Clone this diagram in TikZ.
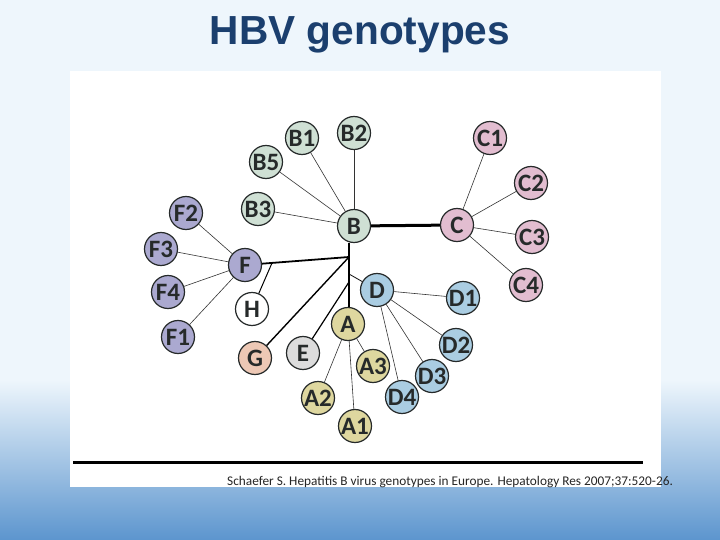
\documentclass[tikz,border=0pt]{standalone}
\usepackage{fontspec}
\setmainfont{Carlito}
\newfontfamily\titlefont{Liberation Sans}
\usetikzlibrary{calc}

\definecolor{titleblue}{HTML}{1B3F6E}
\definecolor{bgtop}{HTML}{EEF6FC}
\definecolor{bgbot}{HTML}{5C95CE}
\definecolor{rimcol}{HTML}{262A2A}
\definecolor{bcol}{HTML}{CFE0D4}
\definecolor{ccol}{HTML}{E2BDD0}
\definecolor{fcol}{HTML}{ABA9D0}
\definecolor{acol}{HTML}{DED79F}
\definecolor{dcol}{HTML}{AACDE2}
\definecolor{gcol}{HTML}{EDC8B5}
\definecolor{ecol}{HTML}{DCDCDC}

\begin{document}
\begin{tikzpicture}[x=1pt, y=-1pt,
    geno/.style={circle, draw=rimcol, line width=1.2pt, minimum size=33pt,
      inner sep=0pt, text=rimcol, font=\bfseries\fontsize{25}{25}\selectfont},
    twig/.style={black!80, line width=0.6pt},
    trunk/.style={black, line width=2pt}]

    \useasboundingbox (0,0) rectangle (720,540);

    % Hintergrund
    \fill[bgtop] (0,0) rectangle (720,540);
    \shade[top color=bgtop, bottom color=bgbot] (0,380) rectangle (720,540);
    \fill[white] (70,71) rectangle (661,487);
    \draw[black, line width=3pt] (73,462) -- (643,462);

    % Titel und Quelle
    \node[anchor=base, inner sep=0pt, text=titleblue,
      font=\titlefont\bfseries\fontsize{40.6}{44}\selectfont] (title) at (360,45) {HBV genotypes};
    \node[anchor=base west, inner sep=0pt, text=black!85,
      font=\fontsize{13.3}{14}\selectfont] (cite) at (227,485)
      {Schaefer S. Hepatitis B virus genotypes in Europe. Hepatology Res 2007;37:520-26.};

    % Genotypen
    \node[geno, fill=bcol] (B) at (354,226) {B};
    \node[geno, fill=bcol] (B1) at (302,138) {B1};
    \node[geno, fill=bcol] (B2) at (354,133) {B2};
    \node[geno, fill=bcol] (B5) at (266,162) {B5};
    \node[geno, fill=bcol] (B3) at (258,209) {B3};

    \node[geno, fill=ccol] (C) at (457,225) {C};
    \node[geno, fill=ccol] (C1) at (490,138) {C1};
    \node[geno, fill=ccol] (C2) at (531,183) {C2};
    \node[geno, fill=ccol] (C3) at (532,237) {C3};
    \node[geno, fill=ccol] (C4) at (526,285) {C4};

    \node[geno, fill=fcol] (F) at (245,265) {F};
    \node[geno, fill=fcol] (F2) at (186,213) {F2};
    \node[geno, fill=fcol] (F3) at (161,249) {F3};
    \node[geno, fill=fcol] (F4) at (168,292) {F4};
    \node[geno, fill=fcol] (F1) at (178,337) {F1};

    \node[geno, fill=white] (H) at (252,309) {H};
    \node[geno, fill=gcol] (G) at (255,358) {G};
    \node[geno, fill=ecol] (E) at (303,353) {E};

    \node[geno, fill=acol] (A) at (348,324) {A};
    \node[geno, fill=acol] (A2) at (318,398) {A2};
    \node[geno, fill=acol] (A1) at (355,426) {A1};
    \node[geno, fill=acol] (A3) at (373,366) {A3};

    \node[geno, fill=dcol] (D) at (377,290) {D};
    \node[geno, fill=dcol] (D1) at (463,298) {D1};
    \node[geno, fill=dcol] (D2) at (456,345) {D2};
    \node[geno, fill=dcol] (D3) at (432,376) {D3};
    \node[geno, fill=dcol] (D4) at (402,397) {D4};

    % Verzweigungen
    \coordinate (J) at (349,257);
    \coordinate (JD) at (349,274);
    \coordinate (JE) at (349,282);
    \coordinate (HJ) at ($(F)!0.26!(J)$);

    % Linien
    \draw[black, line width=3pt] (B) -- (C);
    \draw[trunk] (B.south -| J) -- (A.north -| J);
    \draw[black, line width=1.8pt] (F) -- (J);
    \draw[black, line width=1.4pt] (J) -- (G);
    \draw[black, line width=1.2pt] (JE) -- (E);
    \draw[black, line width=0.8pt] (JD) -- (D);
    \draw[black, line width=1pt] (HJ) -- (H);

    \path[twig]
    (B) edge (B1) edge (B2) edge (B5) edge (B3)
    (C) edge (C1) edge (C2) edge (C3) edge (C4)
    (F) edge (F1) edge (F2) edge (F3) edge (F4)
    (A) edge (A1) edge (A2) edge (A3)
    (D) edge (D1) edge (D2) edge (D3) edge (D4);

\end{tikzpicture}
\end{document}
